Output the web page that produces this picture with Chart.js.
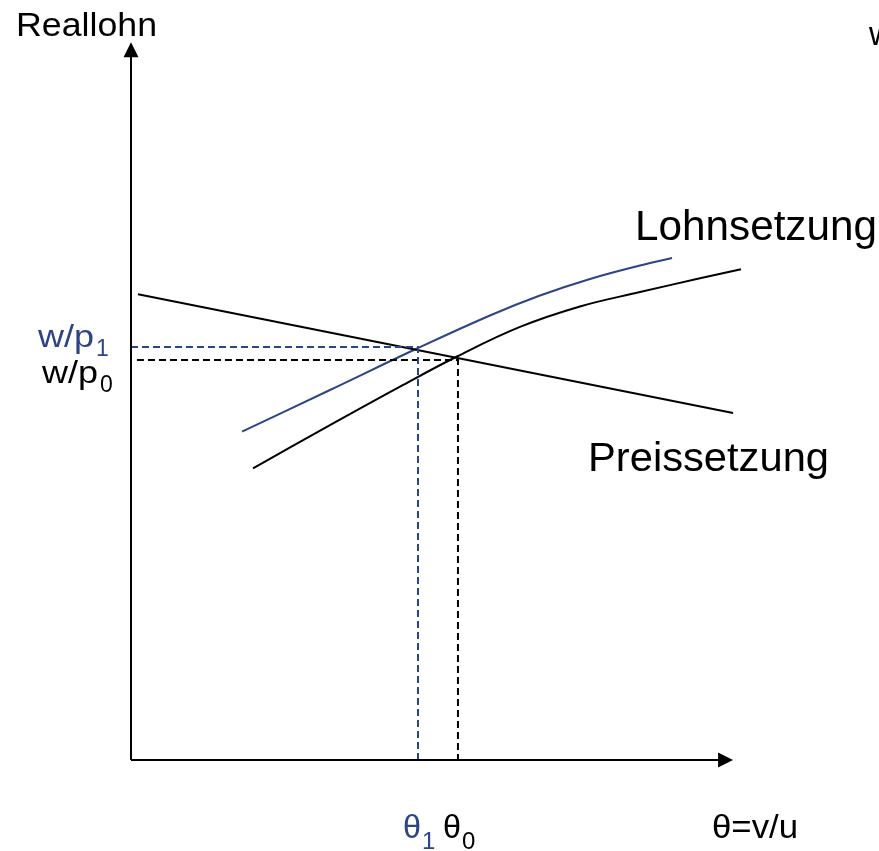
<!DOCTYPE html>
<html>
<head>
<meta charset="utf-8">
<script src="https://cdn.jsdelivr.net/npm/chart.js@4/dist/chart.umd.min.js"></script>
<style>
html,body{margin:0;padding:0;background:#fff;}
#wrap{width:879px;height:851px;position:relative;}
</style>
</head>
<body>
<div id="wrap"><canvas id="c"></canvas></div>
<script>
// ---- data (axis units: x 0..100, y 0..100) ----
const preisX = [1.15, 98.7];
const preisY = [64.7, 48.2];

const lohn0X = [20.0, 32.62, 44.10, 53.44, 63.77, 73.61, 83.44, 93.28, 100];
const lohn0Y = [40.51, 46.50, 51.85, 56.04, 60.15, 62.99, 64.99, 66.90, 68.15];

const lohn1X = [18.2, 32.62, 46.89, 58.85, 67.05, 75.25, 83.44, 88.69];
const lohn1Y = [45.6, 51.39, 57.15, 61.74, 64.51, 66.81, 68.68, 69.72];

const thetaEq = [47.05, 53.6];   // theta_1, theta_0
const wageEq  = [57.36, 55.56];  // w/p_1, w/p_0
const wageDashStart = [0, 0.98];

const yAxisTop = 99.7;
const xAxisEnd = 98.7;

const tickSubs = ['1', '0'];
const labelsText = {
  yTitle: 'Reallohn',
  xTitle: '\u03b8=v/u',
  lohn: 'Lohnsetzung',
  preis: 'Preissetzung',
  corner: 'w',
  wage: 'w/p',
  theta: '\u03b8'
};

const BLUE = '#2d4486';
const BLACK = '#000000';

function pts(xs, ys){ return xs.map((x,i)=>({x:x, y:ys[i]})); }

const datasets = [
  // dashed guides
  {data: [{x:wageDashStart[0], y:wageEq[0]},{x:thetaEq[0], y:wageEq[0]},{x:thetaEq[0], y:0}],
   borderColor: BLUE, borderWidth: 2, borderDash:[7,4], tension:0},
  {data: [{x:wageDashStart[1], y:wageEq[1]},{x:thetaEq[1], y:wageEq[1]},{x:thetaEq[1], y:0}],
   borderColor: BLACK, borderWidth: 2, borderDash:[7,4], tension:0},
  // curves
  {data: pts(preisX, preisY), borderColor: BLACK, borderWidth: 2, tension:0},
  {data: pts(lohn0X, lohn0Y), borderColor: BLACK, borderWidth: 2, tension:0.4},
  {data: pts(lohn1X, lohn1Y), borderColor: BLUE, borderWidth: 2, tension:0.4}
];
datasets.forEach(d=>{ d.showLine=true; d.pointRadius=0; d.pointHoverRadius=0; d.fill=false; d.clip=false; });

function drawText(ctx, txt, x, y, size, color, targetW){
  ctx.save();
  ctx.font = size + 'px "Liberation Sans", Arial, sans-serif';
  ctx.fillStyle = color;
  ctx.textBaseline = 'alphabetic';
  ctx.textAlign = 'left';
  let sx = 1;
  if (targetW) { sx = targetW / ctx.measureText(txt).width; }
  ctx.translate(x, y);
  ctx.scale(sx, 1);
  ctx.fillText(txt, 0, 0);
  const w = ctx.measureText(txt).width * sx;
  ctx.restore();
  return w;
}

const overlay = {
  id: 'overlay',
  afterDatasetsDraw(chart){
    const ctx = chart.ctx;
    const xs = chart.scales.x, ys = chart.scales.y;
    const X = v => xs.getPixelForValue(v), Y = v => ys.getPixelForValue(v);
    ctx.save();
    // axes
    ctx.strokeStyle = '#000'; ctx.fillStyle = '#000'; ctx.lineWidth = 2;
    const ox = X(0), oy = Y(0);
    const ty = Y(yAxisTop), tx = X(xAxisEnd);
    ctx.beginPath();
    ctx.moveTo(ox, oy); ctx.lineTo(ox, ty + 14);
    ctx.moveTo(ox, oy); ctx.lineTo(tx - 14, oy);
    ctx.stroke();
    ctx.beginPath();
    ctx.moveTo(ox, ty); ctx.lineTo(ox - 7.5, ty + 15); ctx.lineTo(ox + 7.5, ty + 15); ctx.closePath(); ctx.fill();
    ctx.beginPath();
    ctx.moveTo(tx, oy); ctx.lineTo(tx - 15, oy - 7.5); ctx.lineTo(tx - 15, oy + 7.5); ctx.closePath(); ctx.fill();
    ctx.restore();

    // texts
    drawText(ctx, labelsText.yTitle, 16, 36, 34, BLACK, 141);
    drawText(ctx, labelsText.corner, 869, 45, 33, BLACK);
    drawText(ctx, labelsText.lohn, 635, 240, 42, BLACK, 242);
    drawText(ctx, labelsText.preis, 588, 471, 40, BLACK, 241);

    // wage tick labels (w/p1 blue, w/p0 black)
    const wageColors = [BLUE, BLACK];
    const wageOffsets = [[38, 0], [42, 36]];
    for (let i=0;i<2;i++){
      const base = Y(wageEq[0]) + wageOffsets[i][1];
      const w = drawText(ctx, labelsText.wage, wageOffsets[i][0], base, 31, wageColors[i], 56);
      drawText(ctx, tickSubs[i], wageOffsets[i][0] + w + 2, base + 9, 23, wageColors[i]);
    }
    // theta tick labels
    for (let i=0;i<2;i++){
      const cx = X(thetaEq[i]);
      const left = cx - 15;
      const w = drawText(ctx, labelsText.theta, left, 838, 33, wageColors[i], 18);
      drawText(ctx, tickSubs[i], left + w + 1, 849, 24, wageColors[i]);
    }
    drawText(ctx, labelsText.xTitle, 712, 838, 33, BLACK, 86);
  }
};

new Chart(document.getElementById('c'), {
  type: 'scatter',
  data: { datasets },
  options: {
    responsive: true,
    maintainAspectRatio: false,
    animation: false,
    layout: { padding: { left: 131, right: 138, top: 40, bottom: 91 } },
    scales: {
      x: { type:'linear', min:0, max:100, display:false },
      y: { type:'linear', min:0, max:100, display:false }
    },
    plugins: { legend:{display:false}, tooltip:{enabled:false} }
  },
  plugins: [overlay]
});
</script>
</body>
</html>
